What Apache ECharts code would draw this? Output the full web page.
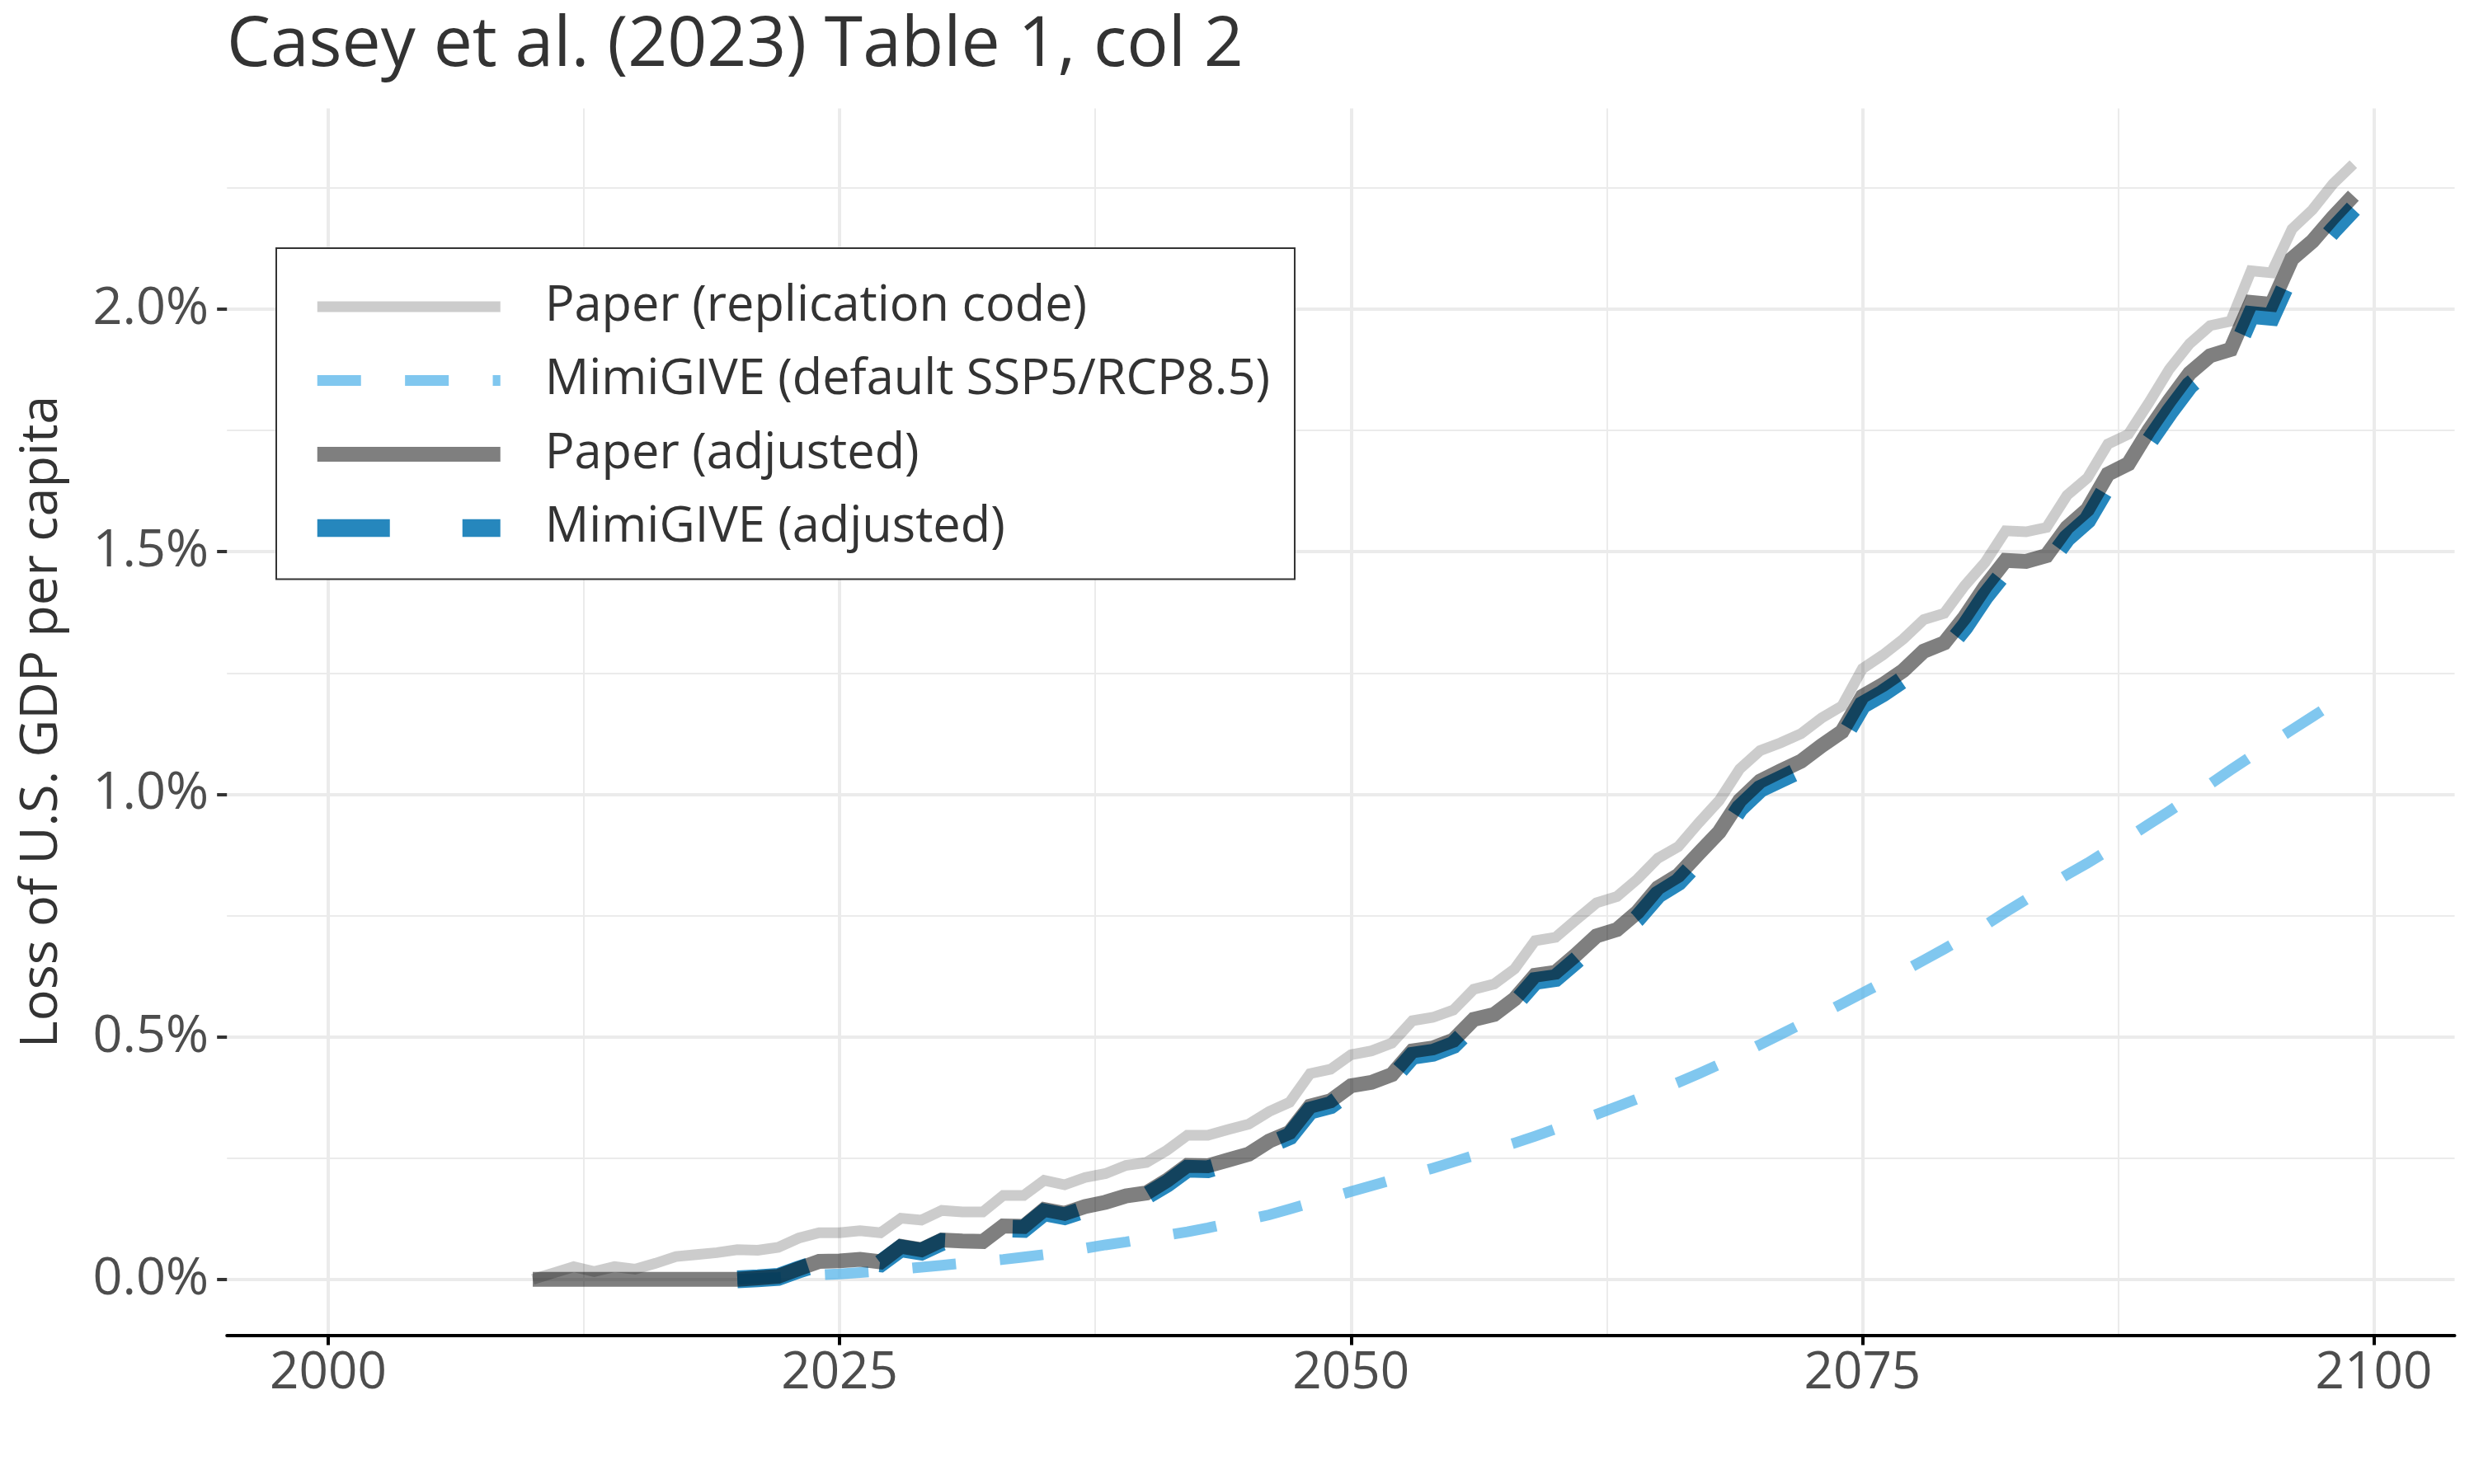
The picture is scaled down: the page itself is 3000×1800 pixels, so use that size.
<!DOCTYPE html>
<html>
<head>
<meta charset="utf-8">
<title>Casey et al. (2023) Table 1, col 2</title>
<script src="https://cdn.jsdelivr.net/npm/echarts@6/dist/echarts.min.js"></script>
<style>
  html, body { margin: 0; padding: 0; background: #fff; }
  #chart { width: 3000px; height: 1800px; }
</style>
</head>
<body>
<div id="chart"></div>
<script>
// years 2010 - 2099
var years = [
  2010, 2011, 2012, 2013, 2014, 2015, 2016, 2017, 2018, 2019,
  2020, 2021, 2022, 2023, 2024, 2025, 2026, 2027, 2028, 2029,
  2030, 2031, 2032, 2033, 2034, 2035, 2036, 2037, 2038, 2039,
  2040, 2041, 2042, 2043, 2044, 2045, 2046, 2047, 2048, 2049,
  2050, 2051, 2052, 2053, 2054, 2055, 2056, 2057, 2058, 2059,
  2060, 2061, 2062, 2063, 2064, 2065, 2066, 2067, 2068, 2069,
  2070, 2071, 2072, 2073, 2074, 2075, 2076, 2077, 2078, 2079,
  2080, 2081, 2082, 2083, 2084, 2085, 2086, 2087, 2088, 2089,
  2090, 2091, 2092, 2093, 2094, 2095, 2096, 2097, 2098, 2099
];

// loss of US GDP per capita, in %
var paperReplication = [
  0.000, 0.013, 0.026, 0.016, 0.026, 0.021, 0.033, 0.047, 0.051, 0.055,
  0.061, 0.060, 0.066, 0.085, 0.096, 0.096, 0.100, 0.096, 0.126, 0.122,
  0.142, 0.139, 0.139, 0.173, 0.173, 0.204, 0.195, 0.210, 0.218, 0.235,
  0.241, 0.266, 0.297, 0.297, 0.309, 0.320, 0.346, 0.365, 0.424, 0.433,
  0.463, 0.471, 0.487, 0.533, 0.540, 0.555, 0.598, 0.609, 0.640, 0.698,
  0.705, 0.741, 0.776, 0.789, 0.825, 0.868, 0.892, 0.941, 0.987, 1.052,
  1.090, 1.106, 1.125, 1.157, 1.182, 1.259, 1.287, 1.320, 1.360, 1.373,
  1.430, 1.478, 1.543, 1.541, 1.550, 1.616, 1.652, 1.722, 1.742, 1.807,
  1.876, 1.929, 1.966, 1.975, 2.079, 2.075, 2.165, 2.205, 2.258, 2.299
];

var mimiDefault = [
  null, null, null, null, null, null, null, null, null, null,
  0.000, 0.002, 0.004, 0.007, 0.009, 0.011, 0.014, 0.017, 0.021, 0.025,
  0.029, 0.033, 0.037, 0.041, 0.046, 0.051, 0.057, 0.064, 0.071, 0.077,
  0.084, 0.091, 0.098, 0.106, 0.115, 0.124, 0.133, 0.145, 0.157, 0.169,
  0.181, 0.193, 0.205, 0.217, 0.229, 0.242, 0.255, 0.268, 0.281, 0.295,
  0.310, 0.325, 0.340, 0.356, 0.372, 0.389, 0.406, 0.424, 0.443, 0.463,
  0.484, 0.505, 0.526, 0.547, 0.568, 0.590, 0.612, 0.635, 0.658, 0.681,
  0.705, 0.730, 0.757, 0.783, 0.809, 0.834, 0.858, 0.884, 0.911, 0.938,
  0.965, 0.993, 1.021, 1.050, 1.078, 1.106, 1.133, 1.160, 1.187, 1.214
];

var paperAdjusted = [
  0.000, 0.000, 0.000, 0.000, 0.000, 0.000, 0.000, 0.000, 0.000, 0.000,
  0.000, 0.003, 0.006, 0.022, 0.037, 0.038, 0.041, 0.036, 0.068, 0.061,
  0.081, 0.079, 0.078, 0.110, 0.109, 0.144, 0.136, 0.150, 0.159, 0.172,
  0.178, 0.204, 0.235, 0.234, 0.246, 0.258, 0.285, 0.303, 0.357, 0.368,
  0.399, 0.406, 0.422, 0.471, 0.477, 0.493, 0.536, 0.546, 0.578, 0.627,
  0.633, 0.669, 0.708, 0.721, 0.757, 0.807, 0.833, 0.878, 0.922, 0.987,
  1.027, 1.048, 1.068, 1.100, 1.129, 1.202, 1.226, 1.255, 1.295, 1.312,
  1.365, 1.428, 1.482, 1.480, 1.492, 1.550, 1.587, 1.660, 1.681, 1.750,
  1.811, 1.868, 1.904, 1.917, 2.014, 2.010, 2.104, 2.140, 2.189, 2.234
];

var mimiAdjusted = [
  null, null, null, null, null, null, null, null, null, null,
  0.000, 0.002, 0.005, 0.020, 0.034, 0.035, 0.038, 0.033, 0.064, 0.057,
  0.077, 0.075, 0.074, 0.105, 0.104, 0.138, 0.130, 0.144, 0.153, 0.166,
  0.172, 0.197, 0.228, 0.227, 0.239, 0.251, 0.277, 0.295, 0.348, 0.359,
  0.390, 0.397, 0.413, 0.461, 0.467, 0.483, 0.525, 0.535, 0.567, 0.615,
  0.621, 0.657, 0.695, 0.708, 0.744, 0.793, 0.819, 0.864, 0.907, 0.971,
  1.011, 1.031, 1.051, 1.083, 1.112, 1.184, 1.208, 1.237, 1.276, 1.293,
  1.345, 1.408, 1.461, 1.459, 1.471, 1.528, 1.565, 1.637, 1.658, 1.726,
  1.787, 1.843, 1.879, 1.892, 1.988, 1.984, 2.077, 2.113, 2.162, 2.207
];

var xTicks = [2000, 2025, 2050, 2075, 2100];
var xMinor = [2012.5, 2037.5, 2062.5, 2087.5];
var yTicks = [0, 0.5, 1, 1.5, 2];
var yMinor = [0.25, 0.75, 1.25, 1.75, 2.25];

var names = [
  'Paper (replication code)',
  'MimiGIVE (default SSP5/RCP8.5)',
  'Paper (adjusted)',
  'MimiGIVE (adjusted)'
];

function pairs(vals) {
  return years.map(function (y, i) { return [y, vals[i]]; });
}

var xRange = { min: 1995.05, max: 2103.95 };
var yRange = { min: -0.115, max: 2.414 };
var gridColor = '#ebebeb';
var font = '"Open Sans"';

var chart = echarts.init(document.getElementById('chart'), null, { renderer: 'canvas' });

chart.setOption({
  animation: false,
  backgroundColor: '#fff',
  textStyle: { fontFamily: font, fontWeight: 'normal' },
  title: {
    text: 'Casey et al. (2023) Table 1, col 2',
    left: 275,
    top: 14,
    padding: 0,
    textStyle: { fontFamily: font, fontSize: 84, fontWeight: 'normal', color: '#333' }
  },
  grid: {
    left: 275.2, right: 23.5, top: 131.4, bottom: 180.6,
    containLabel: false, outerBoundsMode: 'none'
  },
  legend: {
    orient: 'vertical',
    left: 335, top: 301,
    padding: [41, 30, 32, 39],
    itemWidth: 222, itemHeight: 22, itemGap: 29.5,
    backgroundColor: '#fff',
    borderColor: '#333', borderWidth: 2, borderRadius: 0,
    selectedMode: false,
    itemStyle: { opacity: 0 },
    textStyle: { fontFamily: font, fontSize: 59.5, fontWeight: 'normal', color: '#333', padding: [0, 0, 0, 49] },
    data: [
      { name: names[0], lineStyle: { width: 13 } },
      { name: names[1], lineStyle: { width: 13 } },
      { name: names[2], lineStyle: { width: 18 } },
      { name: names[3], lineStyle: { width: 21.5 } }
    ]
  },
  xAxis: [
    {
      type: 'value', min: xRange.min, max: xRange.max,
      axisLine: { show: true, onZero: false, lineStyle: { color: '#000', width: 4 } },
      axisTick: { show: true, customValues: xTicks, length: 12, lineStyle: { color: '#000', width: 4 } },
      axisLabel: {
        customValues: xTicks, fontFamily: font, fontWeight: 'normal', fontSize: 62, color: '#4d4d4d', margin: 16,
        formatter: function (v) { return String(v); }
      },
      splitLine: { show: true, lineStyle: { color: gridColor, width: 4 } }
    },
    {
      type: 'value', min: xRange.min, max: xRange.max, position: 'bottom',
      axisLine: { show: false },
      axisTick: { show: false, customValues: xMinor },
      axisLabel: { show: false },
      splitLine: { show: true, lineStyle: { color: gridColor, width: 2 } }
    }
  ],
  yAxis: [
    {
      type: 'value', min: yRange.min, max: yRange.max,
      name: 'Loss of U.S. GDP per capita',
      nameLocation: 'middle', nameGap: 193,
      nameTextStyle: { fontFamily: font, fontWeight: 'normal', fontSize: 63, color: '#333' },
      axisLine: { show: false },
      axisTick: { show: true, customValues: yTicks, length: 12, lineStyle: { color: '#333', width: 4 } },
      axisLabel: {
        customValues: yTicks, fontFamily: font, fontWeight: 'normal', fontSize: 63, color: '#4d4d4d', margin: 22,
        formatter: function (v) { return v.toFixed(1) + '%'; }
      },
      splitLine: { show: true, lineStyle: { color: gridColor, width: 4 } }
    },
    {
      type: 'value', min: yRange.min, max: yRange.max, position: 'left',
      axisLine: { show: false },
      axisTick: { show: false, customValues: yMinor },
      axisLabel: { show: false },
      splitLine: { show: true, lineStyle: { color: gridColor, width: 2 } }
    }
  ],
  series: [
    {
      name: names[0], type: 'line', data: pairs(paperReplication),
      symbol: 'none', z: 3,
      lineStyle: { color: 'rgba(0,0,0,0.2)', width: 13, join: 'miter', cap: 'butt' },
      itemStyle: { color: 'rgba(0,0,0,0.2)' }
    },
    {
      name: names[1], type: 'line', data: pairs(mimiDefault),
      symbol: 'none', z: 4,
      lineStyle: { color: 'rgba(86,180,233,0.75)', width: 13, type: [53, 53.4], join: 'miter', cap: 'butt' },
      itemStyle: { color: 'rgba(86,180,233,0.75)' }
    },
    {
      name: names[3], type: 'line', data: pairs(mimiAdjusted),
      symbol: 'none', z: 5,
      lineStyle: { color: 'rgba(0,114,178,0.85)', width: 21.5, type: [88, 88], join: 'miter', cap: 'butt' },
      itemStyle: { color: 'rgba(0,114,178,0.85)' }
    },
    {
      name: names[2], type: 'line', data: pairs(paperAdjusted),
      symbol: 'none', z: 6,
      lineStyle: { color: 'rgba(0,0,0,0.5)', width: 18, join: 'miter', cap: 'butt' },
      itemStyle: { color: 'rgba(0,0,0,0.5)' }
    }
  ]
});
</script>
</body>
</html>
